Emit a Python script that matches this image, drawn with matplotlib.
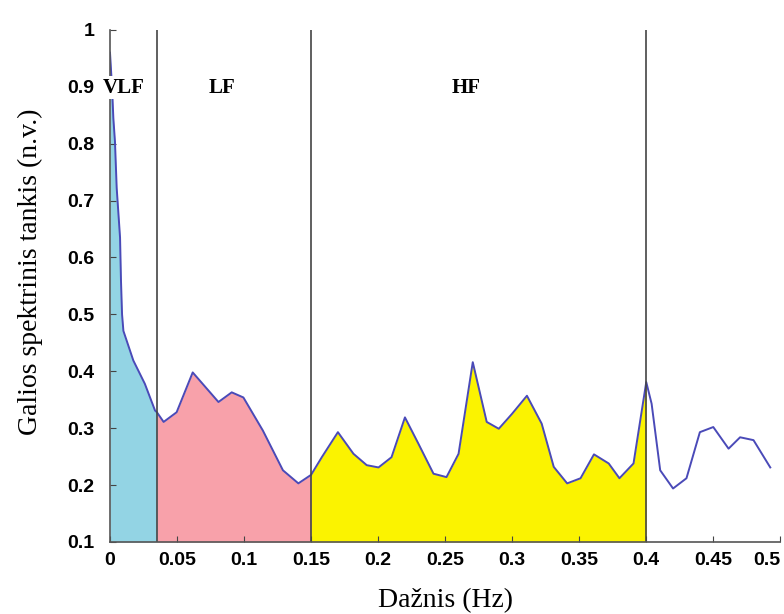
import matplotlib
matplotlib.use("Agg")
import matplotlib.pyplot as plt
import numpy as np

# spektras (nuskaityta nuo paveikslo)
freq = [0.0, 0.0015, 0.0025, 0.0037, 0.005, 0.0075, 0.0082, 0.009, 0.010, 0.0174,
        0.026, 0.0336, 0.035, 0.040, 0.0497, 0.0617, 0.0809, 0.0908, 0.0995, 0.114,
        0.129, 0.1405, 0.15, 0.158, 0.170, 0.1816, 0.1915, 0.2003, 0.210, 0.220,
        0.230, 0.2413, 0.251, 0.260, 0.2706, 0.281, 0.290, 0.2998, 0.311, 0.322,
        0.331, 0.341, 0.351, 0.361, 0.372, 0.380, 0.3905, 0.400, 0.404, 0.4104,
        0.420, 0.430, 0.440, 0.450, 0.4614, 0.470, 0.480, 0.4925]
power = [0.96, 0.90, 0.845, 0.804, 0.722, 0.635, 0.559, 0.50, 0.471, 0.419,
         0.378, 0.331, 0.328, 0.311, 0.328, 0.398, 0.346, 0.363, 0.354, 0.296,
         0.226, 0.203, 0.218, 0.249, 0.293, 0.255, 0.235, 0.231, 0.249, 0.319,
         0.273, 0.220, 0.214, 0.255, 0.416, 0.311, 0.299, 0.325, 0.357, 0.308,
         0.232, 0.203, 0.212, 0.254, 0.238, 0.212, 0.238, 0.381, 0.343, 0.226,
         0.194, 0.212, 0.293, 0.302, 0.264, 0.284, 0.279, 0.231]

bands = ["VLF", "LF", "HF"]
band_edges = [0.0, 0.035, 0.15, 0.4]
band_colors = ["#93d4e4", "#f8a1aa", "#fbf300"]
band_label_x = [0.0104, 0.0836, 0.2657]

x_ticks = [0, 0.05, 0.1, 0.15, 0.2, 0.25, 0.3, 0.35, 0.4, 0.45, 0.5]
x_tick_labels = ["0", "0.05", "0.1", "0.15", "0.2", "0.25", "0.3", "0.35", "0.4", "0.45", "0.5"]
y_ticks = [0.1, 0.2, 0.3, 0.4, 0.5, 0.6, 0.7, 0.8, 0.9, 1.0]
y_tick_labels = ["0.1", "0.2", "0.3", "0.4", "0.5", "0.6", "0.7", "0.8", "0.9", "1"]

f = np.array(freq)
p = np.array(power)

fig = plt.figure(figsize=(7.84, 6.14), dpi=100)
ax = fig.add_axes([0.1403, 0.1173, 0.855, 0.834])

for lo, hi, col in zip(band_edges[:-1], band_edges[1:], band_colors):
    mask = (f >= lo) & (f <= hi)
    ax.fill_between(f[mask], 0.1, p[mask], color=col, linewidth=0)

ax.plot(f, p, color="#4a4ab8", linewidth=1.4)

for x in band_edges[1:]:
    ax.axvline(x, color="#444444", linewidth=1.2)

for name, x in zip(bands, band_label_x):
    bg = dict(facecolor="white", edgecolor="none", pad=1) if name == "VLF" else None
    ax.text(x, 0.898, name, ha="center", va="center", fontsize=15,
            fontweight="bold", family="Liberation Serif", bbox=bg, zorder=5)

ax.set_xlim(0, 0.5)
ax.set_ylim(0.1, 1.0)
ax.set_xticks(x_ticks)
xl = ax.set_xticklabels(x_tick_labels, fontsize=14, fontweight="bold", family="Liberation Sans")
xl[-1].set_horizontalalignment("right")
ax.set_yticks(y_ticks)
ax.set_yticklabels(y_tick_labels, fontsize=14, fontweight="bold", family="Liberation Sans")
ax.tick_params(direction="in", length=4, color="#444444")
ax.tick_params(axis="x", pad=7)
ax.tick_params(axis="y", pad=11)

for side in ["top", "right"]:
    ax.spines[side].set_visible(False)
for side in ["left", "bottom"]:
    ax.spines[side].set_color("#555555")
    ax.spines[side].set_linewidth(1.2)

ax.set_xlabel("Dažnis (Hz)", fontsize=20, family="Liberation Serif", labelpad=14)
ax.set_ylabel("Galios spektrinis tankis (n.v.)", fontsize=20, family="Liberation Serif")
ax.yaxis.set_label_coords(-0.1, 0.527)

fig.savefig("out.png", dpi=100)
